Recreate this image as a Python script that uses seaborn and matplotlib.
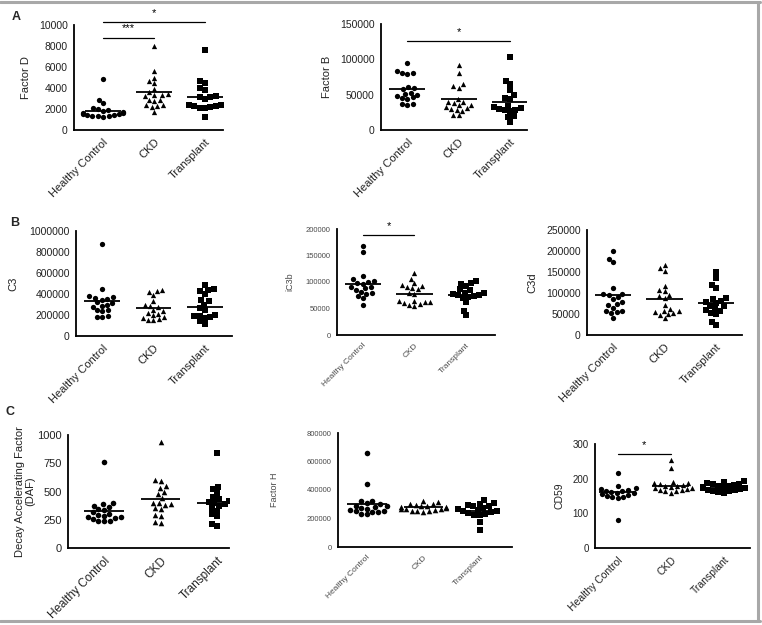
import numpy as np
import pandas as pd
import seaborn as sns
import matplotlib.pyplot as plt
from matplotlib.lines import Line2D

sns.set_style("white")
plt.rcParams["font.family"] = ["Liberation Sans", "DejaVu Sans"]

groups = ["Healthy Control", "CKD", "Transplant"]
markers = ["o", "^", "s"]

# values (one list per group)
factor_d_hc = [4900, 2900, 2550, 2100, 2000, 1950, 1800, 1700, 1650, 1550, 1500, 1450, 1400, 1350, 1300, 1300, 1250, 1600]
factor_d_ckd = [8000, 5600, 5000, 4700, 4500, 3900, 3600, 3400, 3350, 3300, 3250, 2900, 2850, 2800, 2400, 2350, 2300, 2200, 1750]
factor_d_tx = [7600, 4700, 4450, 4000, 3850, 3200, 3150, 3100, 2950, 2400, 2350, 2300, 2250, 2200, 2100, 2050, 1250]
factor_d_lines = [1850, 3650, 3100]

factor_b_hc = [95000, 83000, 80000, 79000, 81000, 61000, 58000, 59000, 53000, 51000, 50000, 48000, 46000, 44000, 45000, 37000, 36000, 37000]
factor_b_ckd = [92000, 80000, 65000, 62000, 60000, 44000, 40000, 40000, 38000, 36000, 35000, 33000, 31000, 30000, 28000, 27000, 21000, 21000]
factor_b_tx = [104000, 70000, 65000, 56000, 49000, 45000, 44000, 34000, 31000, 30000, 29000, 28000, 27000, 20000, 19000, 12000, 33000]
factor_b_lines = [58000, 44000, 39000]

c3_hc = [880000, 445000, 380000, 370000, 365000, 355000, 340000, 320000, 310000, 300000, 290000, 280000, 250000, 245000, 240000, 190000, 185000, 180000]
c3_ckd = [440000, 430000, 420000, 390000, 330000, 300000, 290000, 280000, 250000, 240000, 220000, 210000, 200000, 180000, 170000, 160000, 150000, 150000]
c3_tx = [490000, 450000, 440000, 430000, 400000, 340000, 330000, 300000, 270000, 250000, 200000, 190000, 190000, 180000, 175000, 140000, 110000]
c3_lines = [335000, 268000, 274000]

ic3b_hc = [168000, 156000, 112000, 106000, 102000, 100000, 99000, 97000, 91000, 90000, 88000, 85000, 82000, 80000, 78000, 73000, 70000, 57000]
ic3b_ckd = [117000, 106000, 98000, 94000, 92000, 90000, 88000, 86000, 80000, 78000, 65000, 64000, 63000, 62000, 60000, 58000, 56000, 55000]
ic3b_tx = [101000, 99000, 96000, 93000, 86000, 84000, 80000, 79000, 78000, 76000, 75000, 73000, 72000, 70000, 62000, 46000, 37000]
ic3b_lines = [96000, 78000, 76000]

c3d_hc = [200000, 181000, 173000, 113000, 98000, 97000, 95000, 90000, 86000, 78000, 74000, 72000, 65000, 57000, 56000, 55000, 52000, 40000]
c3d_ckd = [167000, 160000, 152000, 117000, 107000, 104000, 95000, 92000, 88000, 72000, 62000, 58000, 56000, 54000, 52000, 50000, 48000, 40000]
c3d_tx = [150000, 135000, 120000, 112000, 88000, 86000, 80000, 78000, 76000, 70000, 68000, 62000, 60000, 58000, 52000, 50000, 32000, 24000]
c3d_lines = [96000, 86000, 76000]

daf_hc = [760, 395, 385, 375, 365, 345, 335, 320, 305, 295, 285, 275, 270, 265, 255, 240, 235, 235]
daf_ckd = [940, 600, 590, 550, 535, 495, 480, 440, 400, 395, 385, 380, 355, 345, 290, 280, 228, 225]
daf_tx = [840, 540, 520, 485, 450, 435, 420, 410, 400, 385, 375, 350, 330, 300, 280, 210, 195]
daf_lines = [330, 435, 398]

factor_h_hc = [660000, 440000, 325000, 320000, 310000, 300000, 290000, 285000, 280000, 275000, 270000, 260000, 255000, 250000, 248000, 245000, 235000, 230000]
factor_h_ckd = [325000, 315000, 305000, 300000, 295000, 290000, 285000, 280000, 278000, 275000, 270000, 268000, 265000, 260000, 255000, 252000, 250000, 248000]
factor_h_tx = [330000, 310000, 305000, 295000, 290000, 285000, 275000, 268000, 262000, 255000, 250000, 245000, 240000, 235000, 228000, 225000, 175000, 118000]
factor_h_lines = [302000, 279000, 256000]

cd59_hc = [215, 180, 172, 170, 168, 165, 163, 162, 160, 158, 155, 153, 150, 148, 147, 145, 80]
cd59_ckd = [255, 230, 190, 188, 187, 185, 182, 180, 178, 176, 174, 172, 170, 168, 166, 165, 163, 160]
cd59_tx = [192, 190, 188, 186, 185, 183, 180, 178, 176, 175, 173, 172, 170, 168, 166, 165, 163, 162, 160]
cd59_lines = [162, 180, 174]

W, H = 762, 625
fig = plt.figure(figsize=(W / 100, H / 100), dpi=100)


def box(x0, y0, x1, y1):
    # pixel box -> figure fraction
    return [x0 / W, 1 - y1 / H, (x1 - x0) / W, (y1 - y0) / H]


panels = [
    dict(vals=[factor_d_hc, factor_d_ckd, factor_d_tx], lines=factor_d_lines, ylabel="Factor D",
         ymax=10000, step=2000, pos=box(74, 25, 223, 130), xlim=(-0.57, 2.35),
         fs=7.5, lfs=8, col="#222222", ms=3.8, lp=6,
         brackets=[(0, 1, 8800, "***"), (0, 2, 10300, "*")]),
    dict(vals=[factor_b_hc, factor_b_ckd, factor_b_tx], lines=factor_b_lines, ylabel="Factor B",
         ymax=150000, step=50000, pos=box(381, 24, 527, 130), xlim=(-0.51, 2.33),
         fs=7.5, lfs=8, col="#222222", ms=3.8, lp=6,
         brackets=[(0, 2, 126000, "*")]),
    dict(vals=[c3_hc, c3_ckd, c3_tx], lines=c3_lines, ylabel="C3",
         ymax=1000000, step=200000, pos=box(76, 231, 232, 336), xlim=(-0.51, 2.53),
         fs=7.5, lfs=8, col="#222222", ms=3.8, lp=8, brackets=[]),
    dict(vals=[ic3b_hc, ic3b_ckd, ic3b_tx], lines=ic3b_lines, ylabel="iC3b",
         ymax=200000, step=50000, pos=box(337, 229, 495, 335), xlim=(-0.5, 2.56),
         fs=5.5, lfs=6.5, col="#4a4a4a", ms=3.8, lp=8,
         brackets=[(0, 1, 189000, "*")]),
    dict(vals=[c3d_hc, c3d_ckd, c3d_tx], lines=c3d_lines, ylabel="C3d",
         ymax=250000, step=50000, pos=box(587, 230, 742, 335), xlim=(-0.5, 2.5),
         fs=7.5, lfs=8, col="#222222", ms=3.8, lp=6, brackets=[]),
    dict(vals=[daf_hc, daf_ckd, daf_tx], lines=daf_lines, ylabel="Decay Accelerating Factor\n(DAF)",
         ymax=1000, step=250, pos=box(68, 435, 229, 548), xlim=(-0.64, 2.21),
         fs=8, lfs=8, col="#222222", ms=4.0, lp=1, brackets=[]),
    dict(vals=[factor_h_hc, factor_h_ckd, factor_h_tx], lines=factor_h_lines, ylabel="Factor H",
         ymax=800000, step=200000, pos=box(338, 433, 512, 547), xlim=(-0.51, 2.57),
         fs=5.5, lfs=6.5, col="#4a4a4a", ms=4.0, lp=20, brackets=[]),
    dict(vals=[cd59_hc, cd59_ckd, cd59_tx], lines=cd59_lines, ylabel="CD59",
         ymax=300, step=100, pos=box(595, 444, 750, 548), xlim=(-0.43, 2.49),
         fs=7, lfs=7.5, col="#222222", ms=3.8, lp=6,
         brackets=[(0, 1, 271, "*")]),
]

for p in panels:
    ax = fig.add_axes(p["pos"])
    for g, m, v in zip(groups, markers, p["vals"]):
        sub = pd.DataFrame({"group": g, "value": v})
        sns.swarmplot(data=sub, x="group", y="value", order=groups, marker=m,
                      color="black", size=p["ms"], linewidth=0, ax=ax, warn_thresh=1)
    ax.hlines(p["lines"], np.arange(3) - 0.35, np.arange(3) + 0.35, color="black", lw=1.3, zorder=3)
    ax.set_xlim(*p["xlim"])
    ax.set_ylim(0, p["ymax"])
    ax.set_yticks(np.arange(0, p["ymax"] + 1, p["step"]))
    ax.set_yticklabels([str(int(t)) for t in ax.get_yticks()], fontsize=p["fs"], color=p["col"])
    ax.set_xticks(range(3))
    ax.set_xticklabels(groups, rotation=45, ha="right", rotation_mode="anchor",
                       fontsize=p["fs"] + 0.5, color=p["col"])
    ax.set_xlabel("")
    ax.set_ylabel(p["ylabel"], fontsize=p["lfs"], color=p["col"], labelpad=p["lp"],
                  linespacing=1.05)
    sns.despine(ax=ax)
    for s in ["left", "bottom"]:
        ax.spines[s].set_linewidth(1.3)
        ax.spines[s].set_color("black")
    ax.tick_params(axis="both", length=3, width=1.1, color="black", pad=1.5, direction="out")
    ax.tick_params(axis="x", pad=2)
    for a, b, y, star in p["brackets"]:
        ax.plot([a, b], [y, y], color="black", lw=0.9, clip_on=False)
        ax.text((a + b) / 2, y + p["ymax"] * 0.04, star, ha="center", va="bottom",
                fontsize=8, color="black", clip_on=False)

fig.text(12 / W, 1 - 17 / H, "A", fontsize=9, fontweight="bold", ha="left", va="center")
fig.text(10 / W, 1 - 223 / H, "B", fontsize=9, fontweight="bold", ha="left", va="center")
fig.text(6 / W, 1 - 412 / H, "C", fontsize=9, fontweight="bold", ha="left", va="center")

# grey frame (top, right, bottom)
frame = "#a8a8a8"
fig.add_artist(Line2D([0, 760 / W], [1 - 2 / H, 1 - 2 / H], color=frame, lw=2.2))
fig.add_artist(Line2D([758 / W, 758 / W], [1 - 2 / H, 1 - 621 / H], color=frame, lw=2.2))
fig.add_artist(Line2D([0, 760 / W], [1 - 621 / H, 1 - 621 / H], color=frame, lw=2.2))

fig.savefig("out.png", dpi=100)
